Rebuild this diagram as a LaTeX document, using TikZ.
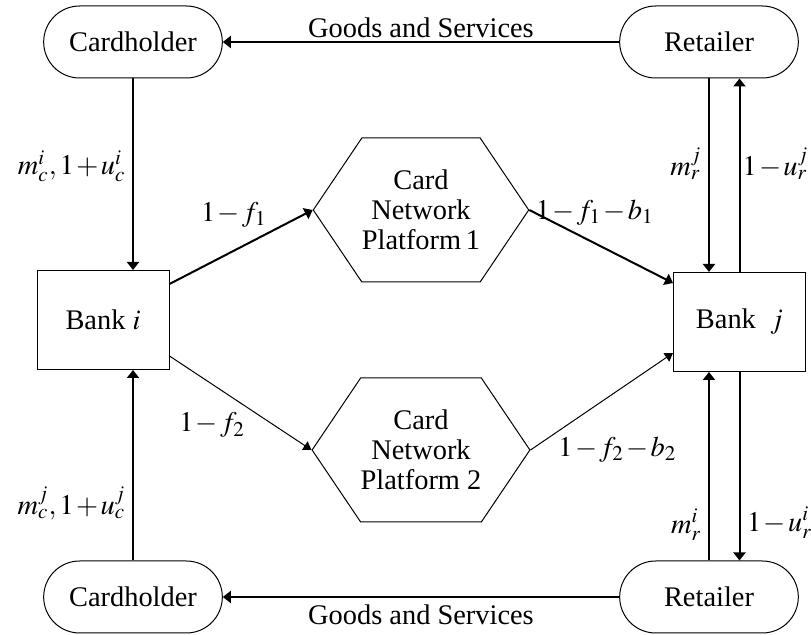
\documentclass[tikz,border=0pt]{standalone}
\usepackage{mathptmx}
\usepackage{fontspec}
\setmainfont{Liberation Serif}
\usetikzlibrary{arrows.meta,shapes.misc,shapes.symbols}
\medmuskip=1.5mu

\tikzset{
  agent/.style={draw, line width=0.5pt, rounded rectangle,
                minimum width=96pt, minimum height=36pt},
  bank/.style={draw, line width=0.5pt, rectangle,
               minimum width=66pt, minimum height=49.5pt},
  platform/.style={draw, line width=0.5pt, signal,
                   signal to=east and west, signal pointer angle=112,
                   minimum width=96pt, minimum height=72pt,
                   align=center, inner sep=0pt},
  flow/.style={line width=1pt, -{Triangle[length=4pt,width=6pt]}},
  thinflow/.style={line width=0.5pt, -{Triangle[length=4pt,width=5pt]}}
}

\begin{document}
\begin{tikzpicture}[x=0.5pt, y=-0.5pt, font=\fontsize{14.2}{15}\selectfont]
\useasboundingbox (0,0) rectangle (811,635);

%% 持卡人与商户
\node[agent] (ch1) at (133,42) {Cardholder};
\node[agent] (rt1) at (709,42) {Retailer};
\node[agent] (ch2) at (133,597) {Cardholder};
\node[agent] (rt2) at (709,597) {Retailer};

%% 银行
\node[bank] (bi) at (103,320) {Bank $i$};
\node[bank] (bj) at (739.5,322) {Bank\ \ $j$};

%% 卡组织平台
\node[platform] (hx1) at (421,210) {Card\\Network\\Platform\,1};
\node[platform] (hx2) at (421,450) {Card\\Network\\Platform 2};

%% 商品与服务
\draw[flow] (rt1.west) -- (ch1.east)
  node[midway, above, inner sep=1.5pt] {Goods and Services};
\draw[flow] (rt2.west) -- (ch2.east)
  node[midway, below] {Goods and Services};

%% 左侧资金流
\draw[flow] (ch1.south) -- (ch1.south |- bi.north)
  node[pos=0.46, left] {$m_c^i,1+u_c^i$};
\draw[flow] (ch2.north) -- (ch2.north |- bi.south)
  node[pos=0.3, left] {$m_c^j,1+u_c^j$};

%% 右侧资金流
\draw[flow] (rt1.south) -- (rt1.south |- bj.north)
  node[pos=0.44, left] {$m_r^j$};
\draw[flow] (bj.north) -- (bj.north |- rt1.south)
  node[pos=0.56, right, inner sep=1pt] {$1-u_r^j$};
\draw[flow] (rt2.north) -- (rt2.north |- bj.south)
  node[pos=0.19, left] {$m_r^i$};
\draw[flow] (bj.south) -- (bj.south |- rt2.north)
  node[pos=0.8, right] {$1-u_r^i$};

%% 经过平台
\draw[flow] ([yshift=-7pt]bi.north east) -- (hx1.west)
  node[pos=0.45, yshift=18pt] {$1-f_1$};
\draw[flow] (hx1.east) -- ([yshift=-5.5pt]bj.north west)
  node[pos=0.455, yshift=15.5pt] {$1-f_1-b_1$};
\draw[thinflow] ([yshift=7pt]bi.south east) -- (hx2.west)
  node[pos=0.3, yshift=-20.5pt] {$1-f_2$};
\draw[thinflow] (hx2.east) -- ([yshift=9.5pt]bj.south west)
  node[pos=0.61, yshift=-29.5pt] {$1-f_2-b_2$};
\end{tikzpicture}
\end{document}
